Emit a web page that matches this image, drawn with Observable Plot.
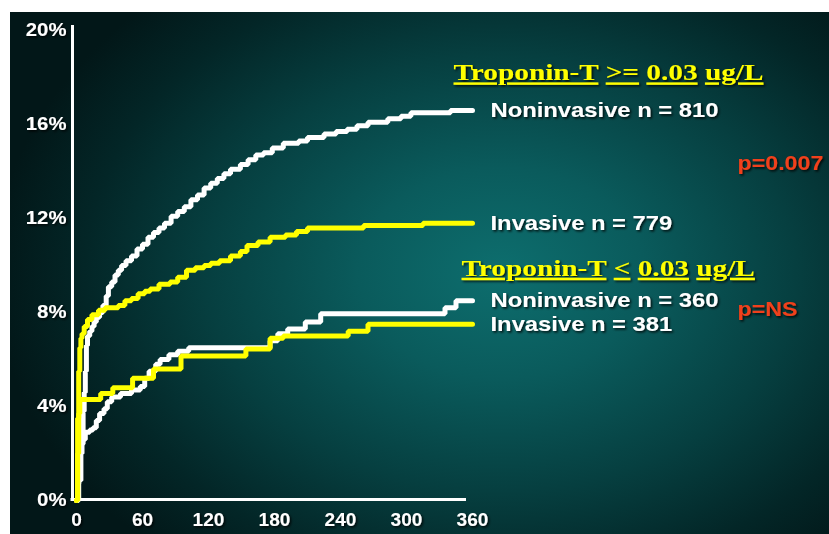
<!DOCTYPE html>
<html><head><meta charset="utf-8">
<script src="https://cdn.jsdelivr.net/npm/d3@7"></script>
<script src="https://cdn.jsdelivr.net/npm/@observablehq/plot@0.6"></script>
<style>
html,body{margin:0;padding:0;background:#fff;}
#chart{width:829px;height:534px;}
</style></head><body><div id="chart"></div>
<script>
// ---- data ----
const xTicks = [0, 60, 120, 180, 240, 300, 360];
const yTicks = [0, 4, 8, 12, 16, 20];
const seriesNames = ["Noninvasive n = 810", "Invasive n = 779", "Noninvasive n = 360", "Invasive n = 381"];
const groupTitles = ["Troponin-T >= 0.03 ug/L", "Troponin-T < 0.03 ug/L"];
const pValues = ["p=0.007", "p=NS"];

const hiNonDays = [0,2,4,5,6,7,8,9,10,12,14,16,18,21,24,27,29,32,35,38,41,45,50,55,60,65,70,75,80,86,92,98,104,110,116,122,128,134,140,149,156,163,170,178,188,202,210,225,236,246,255,265,283,295,304,340,360];
const hiNonPct  = [0,0.85,2.0,2.7,3.8,4.6,5.5,6.6,7.0,7.2,7.4,7.6,7.8,8.0,8.3,8.7,9.1,9.3,9.6,9.8,10.0,10.2,10.4,10.7,10.9,11.2,11.4,11.6,11.8,12.1,12.3,12.5,12.8,13.0,13.3,13.5,13.7,13.9,14.1,14.3,14.5,14.7,14.8,15.0,15.2,15.3,15.45,15.6,15.7,15.8,15.95,16.1,16.25,16.35,16.5,16.6,16.6];

const hiInvDays = [0,1,2,3,4,5,7,10,14,20,26,38,44,50,56,62,67,75,85,92,100,108,116,122,130,140,149,155,165,176,190,200,210,261,315,360];
const hiInvPct  = [0,3.5,5.5,6.5,6.9,7.1,7.4,7.7,7.9,8.1,8.2,8.3,8.5,8.6,8.8,8.9,9.0,9.2,9.3,9.5,9.8,9.9,10.0,10.1,10.2,10.4,10.6,10.85,11.0,11.2,11.3,11.45,11.6,11.7,11.8,11.8];

const loNonDays = [0,1,2,3,4,6,8,12,15,18,21,25,28,32,40,50,58,62,66,72,76,84,92,102,176,183,192,208,222,335,345,360];
const loNonPct  = [0,0.7,1.4,2.0,2.4,2.6,2.9,3.0,3.1,3.4,3.7,3.9,4.2,4.4,4.55,4.7,4.85,5.2,5.5,5.8,6.0,6.2,6.35,6.5,6.8,7.1,7.3,7.6,7.95,8.2,8.5,8.5];

const loInvDays = [0,1,2,3,22,33,51,70,95,154,176,188,247,265,360];
const loInvPct  = [0,2.0,3.7,4.3,4.55,4.8,5.2,5.6,6.15,6.45,6.9,7.0,7.2,7.5,7.5];

// ---- build tables ----
const mk = (name, days, pct) => days.map((d, i) => ({series: name, day: d, pct: pct[i]}));
const hiNon = mk(seriesNames[0], hiNonDays, hiNonPct);
const hiInv = mk(seriesNames[1], hiInvDays, hiInvPct);
const loNon = mk(seriesNames[2], loNonDays, loNonPct);
const loInv = mk(seriesNames[3], loInvDays, loInvPct);
const ends = [hiNon, hiInv, loNon, loInv].map(s => s[s.length - 1]);
const mid = (a, b) => ({day: a.day, pct: (a.pct + b.pct) / 2});
const pRows = [{...mid(ends[0], ends[1]), text: pValues[0]}, {...mid(ends[2], ends[3]), text: pValues[1]}];
const title1 = [{...ends[0], text: groupTitles[0]}];
const title2 = [{...ends[2], text: groupTitles[1]}];

const SANS = "Liberation Sans, Arial, sans-serif";
const SERIF = "Liberation Serif, Times New Roman, serif";
const lineOpts = {x: "day", y: "pct", curve: "step-after", strokeWidth: 5, strokeLinejoin: "miter"};

const chart = Plot.plot({
  width: 829, height: 534,
  marginLeft: 76, marginRight: 357, marginTop: 30, marginBottom: 34,
  style: {
    background: "#fff radial-gradient(ellipse 62% 72% at 60% 50%, #0d6e6e 0%, #0a5b5c 28%, #063f40 58%, #032627 82%, #021718 100%) 10px 12px / 819px 522px no-repeat",
    fontFamily: SANS, fontSize: "18px", fontWeight: "bold", color: "white", overflow: "visible"
  },
  x: {domain: [0, 360], ticks: xTicks, tickSize: 0, tickPadding: 13, label: null},
  y: {domain: [0, 20], ticks: yTicks, tickFormat: d => d + "%", tickSize: 0, tickPadding: 10, label: null},
  marks: [
    Plot.ruleX([0], {stroke: "white", strokeWidth: 3, dx: -4, insetTop: -5, insetBottom: -1}),
    Plot.ruleY([0], {stroke: "white", strokeWidth: 3, dy: -1, insetLeft: -5.5, insetRight: 6}),
    Plot.line(hiNon, {...lineOpts, stroke: "white"}),
    Plot.line(loNon, {...lineOpts, stroke: "white"}),
    Plot.line(hiInv, {...lineOpts, stroke: "#ffff00"}),
    Plot.line(loInv, {...lineOpts, stroke: "#ffff00"}),
    Plot.text(ends, {x: "day", y: "pct", text: "series", dx: 18, textAnchor: "start", fill: "white", fontSize: 20.5, fontWeight: "bold", fontFamily: SANS}),
    Plot.text(title1, {x: "day", y: "pct", text: "text", dx: -19, dy: -30, lineAnchor: "bottom", textAnchor: "start", fill: "#ffff00", fontSize: 24, fontWeight: "bold", fontFamily: SERIF}),
    Plot.text(title2, {x: "day", y: "pct", text: "text", dx: -11, dy: -25, lineAnchor: "bottom", textAnchor: "start", fill: "#ffff00", fontSize: 24, fontWeight: "bold", fontFamily: SERIF}),
    Plot.text(pRows, {x: "day", y: "pct", text: "text", dx: 265, dy: -3, textAnchor: "start", fill: "#f0401a", fontSize: 20, fontWeight: "bold", fontFamily: SANS})
  ]
});
document.getElementById("chart").appendChild(chart);

// ---- text finishing: shadow, underline per word, horizontal stretch ----
const svg = d3.select(chart);
const defs = svg.insert("defs", ":first-child");
const f = defs.append("filter").attr("id", "txtShadow").attr("x", "-10%").attr("y", "-30%").attr("width", "130%").attr("height", "170%");
f.append("feDropShadow").attr("dx", 1.5).attr("dy", 1.5).attr("stdDeviation", 0.8).attr("flood-color", "#000").attr("flood-opacity", 0.85);

svg.selectAll("text").each(function() {
  const t = this.textContent;
  const el = d3.select(this);
  el.attr("filter", "url(#txtShadow)");
  let factor = 1.1;
  if (groupTitles.includes(t)) {
    factor = 1.22;
    el.style("white-space", "pre").text(null);
    t.split(" ").forEach((w, i) => {
      if (i > 0) el.append("tspan").text(" ");
      el.append("tspan").text(w).attr("text-decoration", "underline").style("text-decoration", "underline");
    });
  } else if (seriesNames.includes(t) || pValues.includes(t)) {
    factor = 1.16;
  } else if (t.endsWith("%")) {
    factor = 1.13;
  } else {
    factor = 1.06;
  }
  const n = this.getComputedTextLength();
  if (n > 0) {
    this.setAttribute("textLength", (n * factor).toFixed(1));
    this.setAttribute("lengthAdjust", "spacingAndGlyphs");
  }
});
</script></body></html>
